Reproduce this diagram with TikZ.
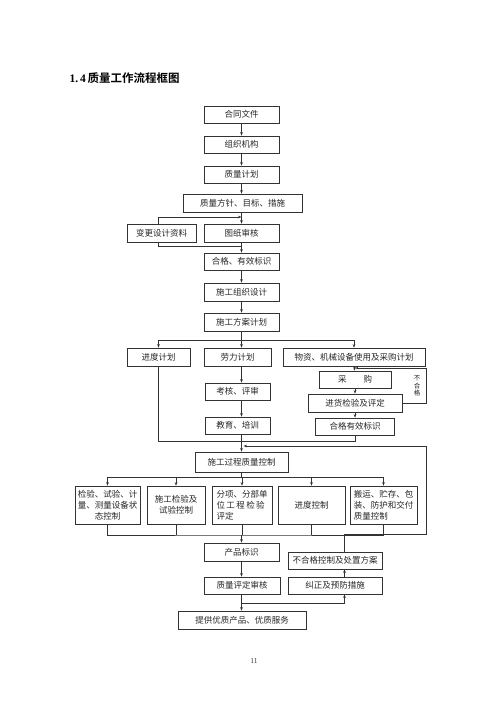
\documentclass[tikz,border=0pt]{standalone}
\usepackage{fontspec}
\setmainfont{Liberation Serif}
\newfontfamily\cjk{Noto Sans CJK SC}[BoldFont={Noto Sans CJK SC Bold}]
\usetikzlibrary{arrows.meta,calc}

\begin{document}
\begin{tikzpicture}[
  x=1pt, y=-1pt,
  qfbox/.style = {draw=black!80, line width=0.6pt, minimum height=17pt, inner sep=1pt,
                  font=\cjk\fontsize{8.5}{11}\selectfont, text=black!85},
  qfwide/.style = {qfbox, align=center},
  qfleft/.style = {qfbox, align=left},
  qfline/.style = {draw=black!80, line width=0.6pt},
  qfarrow/.style = {qfline, -{Stealth[length=3.5pt,width=2.6pt]}}
]
  \useasboundingbox (0,0) rectangle (500,707);
  % title
  \node[anchor=west, font=\fontsize{11.5}{13}\selectfont\bfseries] (title) at (66,78)
    {1.\,4\,{\cjk 质量工作流程框图}};

  % upper column
  \node[qfbox, minimum width=75pt] (ht) at (241.5,114.5) {合同文件};
  \node[qfbox, minimum width=75pt] (zz) at (241.5,144.5) {组织机构};
  \node[qfbox, minimum width=75pt] (zj) at (241.5,174.5) {质量计划};
  \node[qfbox, minimum width=119pt, minimum height=18pt] (fz) at (242.5,203) {质量方针、目标、措施};
  \node[qfbox, minimum width=69pt, minimum height=18pt] (bg) at (161.5,233) {变更设计资料};
  \node[qfbox, minimum width=75pt, minimum height=18pt] (tz) at (241.5,233) {图纸审核};
  \node[qfbox, minimum width=75pt] (hg) at (241.5,261.5) {合格、有效标识};
  \node[qfbox, minimum width=75pt, minimum height=18pt] (sz) at (241.5,292) {施工组织设计};
  \node[qfbox, minimum width=75pt, minimum height=18pt] (fa) at (241.5,322) {施工方案计划};

  \draw[qfarrow] (ht) -- (zz);
  \draw[qfarrow] (zz) -- (zj);
  \draw[qfarrow] (zj) -- (fz.north -| zj);
  \draw[qfarrow] (fz.south -| tz) -- (tz);
  \coordinate (m1) at (241.5,217);
  \coordinate (m2) at (241.5,246);
  \draw[qfarrow] ([xshift=-3.5pt]bg.north) |- (m1);
  \draw[qfline] ([xshift=-3.5pt]bg.south) |- (m2);
  \draw[qfarrow] (tz) -- (hg);
  \draw[qfarrow] (hg) -- (sz);
  \draw[qfarrow] (sz) -- (fa);

  % three plans
  \node[qfbox, minimum width=63pt, minimum height=18pt] (jd) at (158.5,357) {进度计划};
  \node[qfbox, minimum width=67pt, minimum height=18pt] (ll) at (237.5,357) {劳力计划};
  \node[qfbox, minimum width=142pt, minimum height=18pt] (wz) at (354,357) {物资、机械设备使用及采购计划};
  \node[qfbox, minimum width=65pt] (kh) at (237.5,391.5) {考核、评审};
  \node[qfbox, minimum width=65pt] (jy) at (237.5,425.5) {教育、培训};
  \node[qfbox, minimum width=72pt] (cg) at (355,379.5) {采\hspace{2em}购};
  \node[qfbox, minimum width=94pt, minimum height=18pt] (jh) at (355,403) {进货检验及评定};
  \node[qfbox, minimum width=79pt] (hb) at (355,426.5) {合格有效标识};
  \node[font=\cjk\fontsize{6.5}{7.5}\selectfont, text=black!85, align=center, inner sep=0pt]
    (bhg) at (417,386) {不\\合\\格};

  \coordinate (s1) at (241.5,340);
  \draw[qfline] (fa) -- (s1);
  \draw[qfarrow] (s1) -| (jd);
  \draw[qfarrow] (s1) -| (wz);
  \draw[qfarrow] (s1) -- (ll.north -| s1);
  \draw[qfarrow] (ll.south -| s1) -- (kh.north -| s1);
  \draw[qfarrow] (kh.south -| s1) -- (jy.north -| s1);
  \draw[qfarrow] (wz) -- (cg);
  \draw[qfarrow] (cg) -- (jh);
  \draw[qfarrow] (jh) -- (hb);
  \coordinate (c2) at (355,368);
  \draw[qfarrow] (jh.east) -- (426,403) |- (c2);

  % merge into process control
  \node[qfbox, minimum width=93pt, minimum height=20pt] (sg) at (241.5,462) {施工过程质量控制};
  \coordinate (s2) at (241.5,441);
  \coordinate (f0) at (243.5,446);
  \coordinate (f1) at (426,446);
  \draw[qfline] (jd.south) |- (s2);
  \draw[qfline] (hb.south) |- (s2);
  \draw[qfline] (jy.south -| s2) -- (s2);
  \draw[qfarrow] (s2) -- (sg);

  % five controls
  \node[qfwide, minimum width=65pt, minimum height=38pt] (k1) at (107.5,505)
    {检验、试验、计\\量、测量设备状\\态控制};
  \node[qfwide, minimum width=58pt, minimum height=38pt] (k2) at (176,505)
    {施工检验及\\试验控制};
  \node[qfleft, minimum width=60pt, minimum height=38pt] (k3) at (242,505)
    {分项、分部单\\位\,工\,程\,检\,验\\评定};
  \node[qfwide, minimum width=67pt, minimum height=38pt] (k4) at (311.5,505) {进度控制};
  \node[qfleft, minimum width=67pt, minimum height=38pt] (k5) at (383.5,505)
    {搬运、贮存、包\\装、防护和交付\\质量控制};

  \coordinate (s3) at (241.5,477);
  \coordinate (s4) at (241.5,535);
  \draw[qfline] (sg) -- (s3);
  \draw[qfarrow] (s3) -| (k1);
  \draw[qfarrow] (s3) -| (k5);
  \foreach \k in {k2,k3,k4}
    \draw[qfarrow] (\k.north |- s3) -- (\k.north);
  \draw[qfline] (k1.south) |- (s4) -| (k5.south);
  \foreach \k in {k2,k3,k4}
    \draw[qfline] (\k.south) -- (\k.south |- s4);

  % final part
  \node[qfbox, minimum width=75pt, minimum height=18pt] (cp) at (241.5,552) {产品标识};
  \node[qfbox, minimum width=76pt] (pd) at (242,585.5) {质量评定审核};
  \node[qfbox, minimum width=94pt] (bh) at (335,560.5) {不合格控制及处置方案};
  \node[qfbox, minimum width=94pt] (jz) at (335,585.5) {纠正及预防措施};
  \node[qfbox, minimum width=128pt, minimum height=18pt] (tg) at (242,620) {提供优质产品、优质服务};

  \coordinate (kx) at (344.5,0);
  \coordinate (s5) at (241.5,603);
  \draw[qfarrow] (s4) -- (cp.north -| s4);
  \draw[qfarrow] (cp.south -| s4) -- (pd.north -| s4);
  \draw[qfline] (pd.south -| s5) -- (s5);
  \draw[qfarrow] (s5) -- (tg.north -| s5);
  \draw[qfarrow] (s5) -| (jz.south -| kx);
  \draw[qfarrow] (jz.north -| kx) -- (bh.south -| kx);
  \draw[qfarrow] (bh.north -| kx) -- ++(0,-17) -| (f1) -- (f0);

  % page number
  \node[font=\fontsize{7.5}{9}\selectfont, text=black!80] (pg) at (254,661) {11};
\end{tikzpicture}
\end{document}
